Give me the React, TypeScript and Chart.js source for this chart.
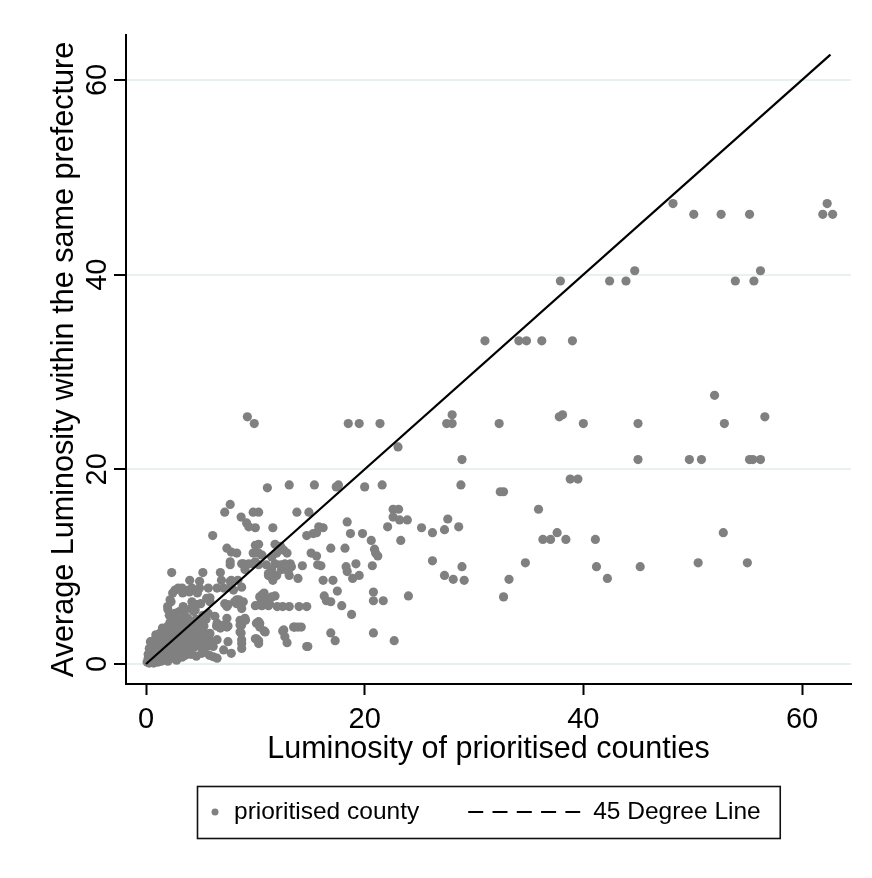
import React, { useEffect, useRef } from 'react';
import { Chart, registerables } from 'chart.js';

Chart.register(...registerables);

// ---- axis setup ----
const xTickValues = [0, 20, 40, 60];
const yTickValues = [0, 20, 40, 60];
const xBounds = [-1.83, 64.48];
const yBounds = [-2.05, 64.62];

// ---- labels ----
const xTitle = 'Luminosity of prioritised counties';
const yTitle = 'Average Luminosity within the same prefecture';
const pointLabel = 'prioritised county';
const lineLabel = '45 Degree Line';

// ---- 45 degree line ends ----
const lineEnds = [0, 62.6];

// ---- county observations [luminosity, prefecture average] ----
const highPoints: [number, number][] = [
  [48.2, 47.3], [50.1, 46.2], [52.6, 46.2], [55.2, 46.2], [61.9, 46.2], [62.3, 47.3], [62.8, 46.2],
  [37.9, 39.35], [42.4, 39.35], [43.9, 39.35], [44.7, 40.4], [53.9, 39.35], [55.6, 39.35], [56.2, 40.4],
  [31.0, 33.2], [34.1, 33.2], [34.8, 33.2], [36.2, 33.2], [39.0, 33.2],
  [52.0, 27.6],
  [27.5, 24.7], [28.0, 24.7], [28.0, 25.6], [32.3, 24.7], [37.8, 25.4], [38.1, 25.6], [40.0, 24.7],
  [45.0, 24.7], [52.9, 24.7], [56.6, 25.4],
  [28.9, 21.0], [45.0, 21.0], [49.7, 21.0], [50.8, 21.0], [55.2, 21.0], [55.5, 21.0], [56.2, 21.0],
  [38.8, 19.0], [39.5, 19.0],
  [28.8, 18.4], [32.4, 17.7], [32.7, 17.7], [35.9, 15.9],
  [27.6, 14.9], [25.2, 14.0], [26.2, 13.5], [27.3, 13.8], [28.6, 14.1],
  [36.3, 12.8], [37.0, 12.8], [37.6, 13.5], [38.4, 12.8], [41.1, 12.8], [52.8, 13.5],
  [26.2, 10.6], [28.9, 10.0], [34.7, 10.4], [41.2, 10.0], [45.2, 10.0], [50.5, 10.4], [55.0, 10.4],
  [27.3, 9.1], [28.1, 8.7], [29.1, 8.6], [33.2, 8.7], [42.2, 8.8], [32.7, 6.9],
];

const midPoints: [number, number][] = [
  [9.27, 25.4], [9.9, 24.7], [18.5, 24.7], [19.5, 24.7], [21.4, 24.7], [23.05, 22.3],
  [11.1, 18.1], [13.1, 18.4], [15.4, 18.4], [17.4, 18.2], [17.6, 18.4], [20.0, 18.2], [21.6, 18.4],
  [7.7, 16.4], [7.2, 15.6], [8.7, 15.1], [9.8, 15.6], [10.3, 15.6], [9.2, 14.5], [9.4, 14.1], [10.0, 14.0],
  [11.6, 14.0], [6.1, 13.2],
  [13.8, 15.6], [14.9, 15.6], [15.8, 14.1], [16.2, 14.0], [15.3, 13.4], [15.6, 13.5], [14.7, 13.2],
  [18.4, 14.6], [18.7, 13.4], [19.8, 13.4], [20.6, 12.7],
  [22.6, 15.9], [23.1, 15.9], [22.6, 15.1], [23.2, 14.8], [23.9, 14.8], [22.1, 14.1], [23.3, 12.7],
  [18.2, 11.9], [16.9, 11.9], [15.1, 11.4], [15.6, 11.1],
  [20.9, 11.8], [21.0, 11.4], [21.2, 11.1], [20.7, 10.1], [19.2, 10.3],
  [18.3, 10.0], [18.4, 9.5], [18.9, 8.8], [19.5, 9.1],
  [16.2, 8.6], [17.1, 8.6], [17.5, 7.5], [16.3, 7.0], [16.5, 6.5], [16.9, 6.4], [17.9, 6.0], [18.8, 5.1],
  [20.8, 7.4], [20.8, 6.5], [21.7, 6.5], [24.0, 7.0], [20.8, 3.2], [22.7, 2.4],
  [16.9, 3.2], [17.3, 2.4], [14.8, 1.8],
  [14.0, 5.9], [14.7, 5.9], [13.1, 5.9], [12.5, 5.9], [12.0, 5.9],
  [13.6, 3.8], [13.9, 3.8], [12.5, 3.4], [12.7, 2.8], [12.9, 2.2],
  [10.4, 4.2], [10.8, 3.4], [10.0, 2.6], [10.3, 2.4],
  [8.7, 3.2], [8.75, 2.1], [8.75, 1.6], [9.1, 4.5],
  [10.4, 6.9], [10.8, 7.3], [11.0, 6.6], [11.5, 6.9], [11.8, 7.0], [10.0, 6.0], [10.6, 6.0], [11.2, 6.0],
  [8.5, 6.6], [8.9, 6.4], [7.5, 6.1], [7.2, 6.2],
  [10.0, 12.2], [10.3, 12.3], [9.8, 11.4], [10.3, 11.4], [10.6, 11.2],
  [11.8, 12.3], [12.3, 12.1], [12.6, 11.7], [12.9, 11.4], [11.95, 11.4], [11.5, 11.0],
  [7.4, 11.9], [7.8, 11.5], [8.3, 11.4], [7.7, 10.5],
  [8.75, 10.3], [9.4, 10.3], [9.8, 10.3], [10.3, 10.2], [9.05, 9.7],
  [11.8, 10.3], [12.3, 10.2], [12.7, 10.3], [13.2, 10.3], [13.3, 10.0], [12.4, 9.7], [13.0, 9.5], [11.95, 9.1],
  [11.3, 9.1], [11.6, 8.6], [13.1, 9.1], [13.9, 8.8], [14.3, 10.1], [15.7, 10.2], [16.0, 10.1],
  [5.2, 9.4], [6.8, 9.4], [6.9, 8.6], [7.8, 8.6], [6.5, 7.8], [5.7, 7.8], [7.7, 7.9], [8.0, 7.6],
  [11.0, 10.2], [11.2, 9.3], [11.5, 9.7],
  [2.35, 9.4], [8.4, 8.6], [8.75, 7.9],
  [4.0, 8.6], [4.9, 8.5], [2.95, 7.8], [2.65, 7.6], [3.3, 7.8], [3.9, 7.6], [4.2, 7.8], [4.9, 7.8],
  [2.2, 6.6], [2.0, 5.6], [2.65, 5.2], [3.4, 5.9], [4.2, 6.4], [4.5, 6.1], [4.35, 5.4], [5.85, 6.8],
  [5.7, 5.2], [5.5, 4.6], [6.3, 4.9], [6.45, 3.9], [6.8, 3.7], [7.4, 5.9], [7.5, 3.9], [8.1, 6.4],
  [8.3, 6.2], [8.75, 5.7], [7.4, 4.7],
  [8.6, 4.5], [9.05, 4.7], [8.75, 4.0], [8.75, 2.5], [7.4, 3.8], [10.1, 4.2], [10.4, 3.8], [10.9, 3.3],
  [10.1, 2.6], [10.3, 2.1], [12.6, 3.5], [13.5, 3.8], [14.2, 3.8], [14.7, 1.8],
  [7.7, 10.2], [8.9, 10.3], [10.0, 10.5], [11.2, 9.1], [7.1, 7.8], [7.7, 8.5], [5.55, 6.75], [5.85, 6.4],
  [4.5, 5.55], [8.3, 6.6], [10.6, 7.1], [11.3, 6.2], [10.4, 6.1], [6.5, 4.2], [7.1, 4.0], [8.9, 4.5],
  [8.6, 4.0], [10.3, 4.35], [8.6, 3.3],
  [5.85, 3.15], [6.5, 2.5], [6.15, 1.8], [7.1, 1.45], [7.5, 2.3], [7.8, 1.1], [5.25, 1.45], [4.6, 2.1],
  [5.4, 2.5], [6.15, 0.75], [4.3, 3.15],
  [2.29, 6.4], [1.98, 5.9], [3.05, 5.4], [3.5, 5.2], [4.1, 5.7], [4.6, 6.1], [5.0, 6.2], [2.44, 7.3],
  [3.35, 7.3], [3.96, 7.4], [4.7, 7.3], [2.13, 5.0], [2.74, 4.5], [3.8, 4.7], [5.2, 5.0],
];

const clusterPoints: [number, number][] = [
  [0.1, 0.2], [0.3, 0.1], [0.5, 0.3], [0.7, 0.1], [0.9, 0.4], [1.1, 0.2], [1.4, 0.3], [1.7, 0.5],
  [2.0, 0.3], [2.4, 0.6], [2.8, 0.4], [3.3, 0.7], [0.2, 0.6], [1.2, 0.7],
  [0.2, 1.0], [0.5, 0.9], [0.8, 1.1], [1.0, 0.8], [1.3, 1.2], [1.6, 0.9], [1.9, 1.1], [2.2, 0.9],
  [2.5, 1.2], [2.8, 1.0], [3.2, 1.1], [3.6, 0.9], [4.1, 1.0], [4.6, 0.8], [5.1, 1.1], [5.8, 0.9], [6.5, 0.6],
  [0.3, 1.6], [0.6, 1.8], [0.9, 1.5], [1.2, 1.7], [1.5, 1.9], [1.8, 1.6], [2.1, 1.8], [2.4, 1.5],
  [2.7, 1.7], [3.0, 1.9], [3.3, 1.6], [3.7, 1.8], [4.0, 1.5], [4.4, 1.7], [4.8, 1.9], [5.2, 1.6], [5.6, 1.8],
  [0.4, 2.3], [0.8, 2.5], [1.1, 2.2], [1.4, 2.6], [1.7, 2.3], [2.0, 2.5], [2.3, 2.2], [2.6, 2.6],
  [2.9, 2.4], [3.2, 2.2], [3.5, 2.6], [3.9, 2.3], [4.3, 2.5], [4.7, 2.3], [5.1, 2.6], [5.5, 2.2], [5.9, 2.4],
  [0.9, 3.0], [1.3, 3.2], [1.7, 2.9], [2.1, 3.3], [2.5, 3.0], [2.9, 3.2], [3.3, 2.9], [3.7, 3.3],
  [4.1, 3.0], [4.5, 3.2], [4.9, 2.9], [5.3, 3.3], [5.7, 3.0],
  [1.5, 3.7], [2.0, 3.9], [2.4, 3.6], [2.8, 4.0], [3.2, 3.7], [3.6, 3.9], [4.0, 3.6], [4.4, 4.0],
  [4.8, 3.7], [5.3, 3.9],
  [2.2, 4.3], [3.1, 4.5], [3.4, 4.2], [4.2, 4.4], [4.6, 4.6], [5.0, 4.3],
];

const FONT = "'Liberation Sans', Arial, Helvetica, sans-serif";
const POINT_COLOR = '#808080';

const stataLegend = {
  id: 'stataLegend',
  afterDraw(chart: any) {
    const ctx: CanvasRenderingContext2D = chart.ctx;
    const area = chart.chartArea;
    const ds = chart.data.datasets;
    ctx.save();
    ctx.font = `24.5px ${FONT}`;
    const w1 = ctx.measureText(ds[0].label).width;
    const w2 = ctx.measureText(ds[1].label).width;
    const lineLen = 112;
    const total = 18 + 19 + w1 + 49 + lineLen + 13 + w2 + 19;
    const cx = (area.left + area.right) / 2;
    const left = Math.round(cx - total / 2);
    const top = 786;
    const h = 52;
    const cy = top + h / 2;
    // box
    ctx.strokeStyle = '#111';
    ctx.lineWidth = 1.6;
    ctx.strokeRect(left + 0.5, top + 0.5, total, h);
    // marker
    let x = left + 18;
    ctx.fillStyle = POINT_COLOR;
    ctx.beginPath();
    ctx.arc(x, cy, 3.5, 0, Math.PI * 2);
    ctx.fill();
    x += 19;
    ctx.fillStyle = '#000';
    ctx.textBaseline = 'middle';
    ctx.textAlign = 'left';
    ctx.fillText(ds[0].label, x, cy);
    x += w1 + 49;
    ctx.strokeStyle = '#000';
    ctx.lineWidth = 2;
    ctx.setLineDash([15, 9.3]);
    ctx.beginPath();
    ctx.moveTo(x, cy);
    ctx.lineTo(x + lineLen, cy);
    ctx.stroke();
    ctx.setLineDash([]);
    x += lineLen + 13;
    ctx.fillText(ds[1].label, x, cy);
    ctx.restore();
  },
};

export default function App() {
  const canvasRef = useRef<HTMLCanvasElement | null>(null);

  useEffect(() => {
    document.body.style.margin = '0';
    const canvas = canvasRef.current;
    if (!canvas) return;
    const allPoints = [...highPoints, ...midPoints, ...clusterPoints];
    const chart = new Chart(canvas, {
      type: 'scatter',
      data: {
        datasets: [
          {
            label: pointLabel,
            data: allPoints.map(([x, y]) => ({ x, y })),
            backgroundColor: POINT_COLOR,
            borderWidth: 0,
            pointRadius: 4.6,
            pointHoverRadius: 4.6,
            order: 2,
          },
          {
            type: 'line',
            label: lineLabel,
            data: lineEnds.map((v) => ({ x: v, y: v })),
            borderColor: '#000',
            borderWidth: 2.2,
            pointRadius: 0,
            showLine: true,
            fill: false,
            tension: 0,
            order: 1,
          } as any,
        ],
      },
      options: {
        animation: false,
        responsive: false,
        devicePixelRatio: 1,
        layout: { padding: { left: 0, right: 21, top: 35, bottom: 110 } },
        plugins: {
          legend: { display: false },
          tooltip: { enabled: false },
        },
        scales: {
          x: {
            type: 'linear',
            min: xBounds[0],
            max: xBounds[1],
            afterBuildTicks: (s: any) => {
              s.ticks = xTickValues.map((v) => ({ value: v }));
            },
            afterFit: (s: any) => {
              s.height = 84;
            },
            ticks: {
              font: { family: FONT, size: 29 },
              color: '#000',
              padding: 8,
              maxRotation: 0,
              minRotation: 0,
            },
            grid: {
              drawOnChartArea: false,
              drawTicks: true,
              tickLength: 11,
              tickColor: '#000',
              tickWidth: 2,
            },
            border: { display: true, color: '#000', width: 2 },
            title: {
              display: true,
              text: xTitle,
              font: { family: FONT, size: 30.5 },
              color: '#000',
              padding: 0,
            },
          },
          y: {
            type: 'linear',
            min: yBounds[0],
            max: yBounds[1],
            afterBuildTicks: (s: any) => {
              s.ticks = yTickValues.map((v) => ({ value: v }));
            },
            afterFit: (s: any) => {
              s.width = 126;
            },
            ticks: {
              font: { family: FONT, size: 29 },
              color: '#000',
              padding: 0,
              minRotation: 90,
              maxRotation: 90,
              crossAlign: 'center',
            },
            grid: {
              color: '#e8f0f2',
              lineWidth: 2,
              drawTicks: true,
              tickLength: 12,
              tickColor: '#000',
              tickWidth: 2,
            },
            border: { display: true, color: '#000', width: 2 },
            title: {
              display: true,
              text: yTitle,
              font: { family: FONT, size: 30.6 },
              color: '#000',
              padding: { top: 46, bottom: 0 },
            },
          },
        },
      },
      plugins: [stataLegend],
    });
    return () => chart.destroy();
  }, []);

  return (
    <div style={{ width: 872, height: 878, background: '#fff' }}>
      <canvas ref={canvasRef} width={872} height={878} style={{ display: 'block', width: 872, height: 878 }} />
    </div>
  );
}
